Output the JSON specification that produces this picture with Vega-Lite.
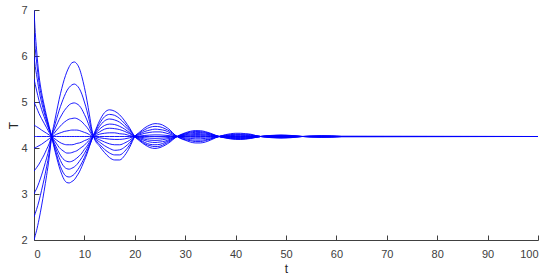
{
"$schema": "https://vega.github.io/schema/vega-lite/v6.json",
"width": 504, "height": 230,
"autosize": {"type": "none"},
"padding": {"left": 34, "top": 10, "right": 12, "bottom": 40},
"background": "white",
"config": {"view": {"stroke": null}, "font": "Liberation Sans"},
"data": {"values": [
{"t":0,"a":2,"b":2.5,"c":3,"d":3.5,"e":4,"f":4.25,"g":4.5,"h":5,"i":5.5,"j":6,"k":6.5,"l":7},
{"t":0.25,"a":2.10,"b":2.58,"c":3.06,"d":3.53,"e":4.01,"f":4.25,"g":4.48,"h":4.94,"i":5.38,"j":5.77,"k":6.16,"l":6.51},
{"t":0.5,"a":2.20,"b":2.66,"c":3.11,"d":3.57,"e":4.02,"f":4.25,"g":4.465,"h":4.88,"i":5.26,"j":5.60,"k":5.89,"l":6.15},
{"t":1,"a":2.45,"b":2.85,"c":3.25,"d":3.65,"e":4.05,"f":4.25,"g":4.43,"h":4.75,"i":5.03,"j":5.25,"k":5.42,"l":5.57},
{"t":1.5,"a":2.74,"b":3.08,"c":3.41,"d":3.75,"e":4.08,"f":4.25,"g":4.39,"h":4.64,"i":4.84,"j":4.99,"k":5.11,"l":5.21},
{"t":2,"a":3.06,"b":3.32,"c":3.59,"d":3.85,"e":4.12,"f":4.25,"g":4.355,"h":4.54,"i":4.68,"j":4.78,"k":4.86,"l":4.94},
{"t":2.5,"a":3.40,"b":3.59,"c":3.78,"d":3.97,"e":4.16,"f":4.25,"g":4.32,"h":4.44,"i":4.53,"j":4.59,"k":4.64,"l":4.69},
{"t":3,"a":3.78,"b":3.88,"c":3.99,"d":4.09,"e":4.20,"f":4.25,"g":4.285,"h":4.34,"i":4.39,"j":4.42,"k":4.44,"l":4.47},
{"t":3.5,"a":4.25,"b":4.25,"c":4.25,"d":4.25,"e":4.25,"f":4.25,"g":4.25,"h":4.25,"i":4.25,"j":4.25,"k":4.25,"l":4.25},
{"t":4,"a":4.53,"b":4.45,"c":4.38,"d":4.32,"e":4.27,"f":4.25,"g":4.21,"h":4.17,"i":4.12,"j":4.08,"k":4.04,"l":4.01},
{"t":4.5,"a":4.80,"b":4.64,"c":4.50,"d":4.39,"e":4.30,"f":4.25,"g":4.17,"h":4.09,"i":4.00,"j":3.93,"k":3.85,"l":3.79},
{"t":5,"a":5.06,"b":4.82,"c":4.62,"d":4.45,"e":4.32,"f":4.25,"g":4.13,"h":4.01,"i":3.89,"j":3.79,"k":3.67,"l":3.59},
{"t":5.5,"a":5.29,"b":4.98,"c":4.72,"d":4.51,"e":4.34,"f":4.25,"g":4.10,"h":3.96,"i":3.80,"j":3.67,"k":3.53,"l":3.43},
{"t":6,"a":5.49,"b":5.12,"c":4.81,"d":4.56,"e":4.36,"f":4.25,"g":4.08,"h":3.92,"i":3.74,"j":3.59,"k":3.43,"l":3.31},
{"t":6.5,"a":5.65,"b":5.24,"c":4.88,"d":4.60,"e":4.37,"f":4.25,"g":4.07,"h":3.89,"i":3.71,"j":3.55,"k":3.38,"l":3.25},
{"t":7,"a":5.77,"b":5.32,"c":4.94,"d":4.63,"e":4.38,"f":4.25,"g":4.07,"h":3.89,"i":3.70,"j":3.54,"k":3.37,"l":3.24},
{"t":7.5,"a":5.85,"b":5.37,"c":4.97,"d":4.64,"e":4.39,"f":4.25,"g":4.07,"h":3.90,"i":3.71,"j":3.56,"k":3.39,"l":3.27},
{"t":8,"a":5.87,"b":5.39,"c":4.98,"d":4.65,"e":4.39,"f":4.25,"g":4.08,"h":3.92,"i":3.74,"j":3.59,"k":3.43,"l":3.31},
{"t":8.5,"a":5.83,"b":5.36,"c":4.96,"d":4.64,"e":4.39,"f":4.25,"g":4.10,"h":3.94,"i":3.78,"j":3.64,"k":3.50,"l":3.39},
{"t":9,"a":5.73,"b":5.29,"c":4.92,"d":4.61,"e":4.38,"f":4.25,"g":4.11,"h":3.98,"i":3.83,"j":3.71,"k":3.58,"l":3.48},
{"t":9.5,"a":5.55,"b":5.17,"c":4.84,"d":4.57,"e":4.36,"f":4.25,"g":4.13,"h":4.02,"i":3.89,"j":3.79,"k":3.68,"l":3.60},
{"t":10,"a":5.32,"b":5.00,"c":4.73,"d":4.51,"e":4.34,"f":4.25,"g":4.16,"h":4.06,"i":3.97,"j":3.88,"k":3.79,"l":3.73},
{"t":10.5,"a":5.04,"b":4.81,"c":4.61,"d":4.45,"e":4.32,"f":4.25,"g":4.18,"h":4.12,"i":4.04,"j":3.98,"k":3.92,"l":3.87},
{"t":11,"a":4.72,"b":4.58,"c":4.46,"d":4.37,"e":4.29,"f":4.25,"g":4.21,"h":4.17,"i":4.13,"j":4.09,"k":4.05,"l":4.03},
{"t":11.5,"a":4.39,"b":4.35,"c":4.31,"d":4.28,"e":4.26,"f":4.25,"g":4.24,"h":4.23,"i":4.22,"j":4.20,"k":4.19,"l":4.19},
{"t":12,"a":4.20,"b":4.21,"c":4.22,"d":4.23,"e":4.244,"f":4.25,"g":4.26,"h":4.28,"i":4.29,"j":4.30,"k":4.32,"l":4.33},
{"t":13,"a":4.04,"b":4.08,"c":4.13,"d":4.18,"e":4.223,"f":4.25,"g":4.30,"h":4.35,"i":4.41,"j":4.47,"k":4.53,"l":4.59},
{"t":14,"a":3.90,"b":3.97,"c":4.05,"d":4.13,"e":4.206,"f":4.25,"g":4.32,"h":4.41,"i":4.49,"j":4.59,"k":4.68,"l":4.77},
{"t":15,"a":3.79,"b":3.89,"c":3.99,"d":4.09,"e":4.193,"f":4.25,"g":4.33,"h":4.43,"i":4.52,"j":4.63,"k":4.73,"l":4.83},
{"t":16,"a":3.74,"b":3.85,"c":3.95,"d":4.07,"e":4.186,"f":4.25,"g":4.33,"h":4.42,"i":4.51,"j":4.61,"k":4.71,"l":4.80},
{"t":17,"a":3.74,"b":3.85,"c":3.96,"d":4.07,"e":4.187,"f":4.25,"g":4.31,"h":4.40,"i":4.47,"j":4.56,"k":4.64,"l":4.72},
{"t":18,"a":3.84,"b":3.93,"c":4.02,"d":4.11,"e":4.199,"f":4.25,"g":4.30,"h":4.36,"i":4.41,"j":4.47,"k":4.53,"l":4.59},
{"t":19,"a":4.02,"b":4.07,"c":4.12,"d":4.17,"e":4.222,"f":4.25,"g":4.27,"h":4.31,"i":4.33,"j":4.37,"k":4.40,"l":4.43},
{"t":20,"a":4.25,"b":4.25,"c":4.25,"d":4.25,"e":4.25,"f":4.25,"g":4.25,"h":4.25,"i":4.25,"j":4.25,"k":4.25,"l":4.25},
{"t":21,"a":4.35,"b":4.33,"c":4.31,"d":4.29,"e":4.262,"f":4.25,"g":4.235,"h":4.22,"i":4.20,"j":4.18,"k":4.17,"l":4.15},
{"t":22,"a":4.44,"b":4.40,"c":4.36,"d":4.32,"e":4.273,"f":4.25,"g":4.222,"h":4.19,"i":4.16,"j":4.12,"k":4.09,"l":4.07},
{"t":23,"a":4.50,"b":4.45,"c":4.39,"d":4.34,"e":4.281,"f":4.25,"g":4.213,"h":4.17,"i":4.13,"j":4.08,"k":4.05,"l":4.01},
{"t":24,"a":4.53,"b":4.47,"c":4.41,"d":4.35,"e":4.285,"f":4.25,"g":4.21,"h":4.165,"i":4.12,"j":4.07,"k":4.03,"l":3.99},
{"t":25,"a":4.52,"b":4.46,"c":4.40,"d":4.35,"e":4.284,"f":4.25,"g":4.213,"h":4.17,"i":4.13,"j":4.08,"k":4.04,"l":4.01},
{"t":26,"a":4.47,"b":4.42,"c":4.38,"d":4.33,"e":4.277,"f":4.25,"g":4.22,"h":4.19,"i":4.15,"j":4.12,"k":4.09,"l":4.06},
{"t":27,"a":4.39,"b":4.36,"c":4.33,"d":4.30,"e":4.267,"f":4.25,"g":4.232,"h":4.21,"i":4.19,"j":4.17,"k":4.15,"l":4.13},
{"t":28,"a":4.28,"b":4.28,"c":4.27,"d":4.26,"e":4.254,"f":4.25,"g":4.246,"h":4.24,"i":4.24,"j":4.23,"k":4.23,"l":4.22},
{"t":29,"a":4.21,"b":4.22,"c":4.23,"d":4.237,"e":4.246,"f":4.25,"g":4.255,"h":4.262,"i":4.268,"j":4.274,"k":4.28,"l":4.285},
{"t":30,"a":4.17,"b":4.18,"c":4.20,"d":4.22,"e":4.24,"f":4.25,"g":4.262,"h":4.277,"i":4.29,"j":4.306,"k":4.318,"l":4.33},
{"t":31,"a":4.13,"b":4.16,"c":4.18,"d":4.208,"e":4.236,"f":4.25,"g":4.267,"h":4.287,"i":4.307,"j":4.328,"k":4.346,"l":4.363},
{"t":32,"a":4.11,"b":4.14,"c":4.17,"d":4.20,"e":4.233,"f":4.25,"g":4.27,"h":4.293,"i":4.315,"j":4.339,"k":4.359,"l":4.379},
{"t":33,"a":4.11,"b":4.14,"c":4.17,"d":4.20,"e":4.233,"f":4.25,"g":4.269,"h":4.292,"i":4.313,"j":4.337,"k":4.356,"l":4.376},
{"t":34,"a":4.13,"b":4.16,"c":4.18,"d":4.208,"e":4.236,"f":4.25,"g":4.266,"h":4.285,"i":4.303,"j":4.323,"k":4.339,"l":4.356},
{"t":35,"a":4.17,"b":4.19,"c":4.20,"d":4.221,"e":4.24,"f":4.25,"g":4.261,"h":4.274,"i":4.286,"j":4.30,"k":4.311,"l":4.322},
{"t":36,"a":4.22,"b":4.23,"c":4.23,"d":4.239,"e":4.246,"f":4.25,"g":4.254,"h":4.259,"i":4.264,"j":4.27,"k":4.274,"l":4.278},
{"t":37,"a":4.26,"b":4.26,"c":4.256,"d":4.254,"e":4.251,"f":4.25,"g":4.248,"h":4.247,"i":4.245,"j":4.243,"k":4.242,"l":4.24},
{"t":38,"a":4.29,"b":4.28,"c":4.27,"d":4.263,"e":4.254,"f":4.25,"g":4.245,"h":4.239,"i":4.234,"j":4.227,"k":4.222,"l":4.217},
{"t":39,"a":4.31,"b":4.29,"c":4.282,"d":4.27,"e":4.256,"f":4.25,"g":4.242,"h":4.233,"i":4.225,"j":4.214,"k":4.206,"l":4.198},
{"t":40,"a":4.32,"b":4.30,"c":4.289,"d":4.274,"e":4.258,"f":4.25,"g":4.24,"h":4.23,"i":4.219,"j":4.207,"k":4.197,"l":4.187},
{"t":41,"a":4.32,"b":4.30,"c":4.29,"d":4.275,"e":4.258,"f":4.25,"g":4.24,"h":4.229,"i":4.218,"j":4.205,"k":4.195,"l":4.185},
{"t":42,"a":4.31,"b":4.30,"c":4.285,"d":4.272,"e":4.257,"f":4.25,"g":4.241,"h":4.231,"i":4.222,"j":4.21,"k":4.201,"l":4.193},
{"t":43,"a":4.30,"b":4.29,"c":4.276,"d":4.266,"e":4.255,"f":4.25,"g":4.243,"h":4.236,"i":4.229,"j":4.221,"k":4.214,"l":4.208},
{"t":44,"a":4.27,"b":4.27,"c":4.263,"d":4.258,"e":4.253,"f":4.25,"g":4.247,"h":4.243,"i":4.239,"j":4.235,"k":4.232,"l":4.229},
{"t":45,"a":4.25,"b":4.25,"c":4.25,"d":4.25,"e":4.25,"f":4.25,"g":4.25,"h":4.25,"i":4.25,"j":4.251,"k":4.251,"l":4.251},
{"t":47,"a":4.225,"b":4.231,"c":4.236,"d":4.241,"e":4.246,"f":4.25,"g":4.254,"h":4.257,"i":4.262,"j":4.266,"k":4.269,"l":4.273},
{"t":49,"a":4.215,"b":4.223,"c":4.23,"d":4.238,"e":4.245,"f":4.25,"g":4.255,"h":4.26,"i":4.266,"j":4.272,"k":4.277,"l":4.282},
{"t":51,"a":4.224,"b":4.23,"c":4.235,"d":4.241,"e":4.246,"f":4.25,"g":4.254,"h":4.257,"i":4.262,"j":4.266,"k":4.27,"l":4.273},
{"t":53,"a":4.248,"b":4.248,"c":4.249,"d":4.249,"e":4.25,"f":4.25,"g":4.25,"h":4.251,"i":4.251,"j":4.252,"k":4.252,"l":4.252},
{"t":55,"a":4.261,"b":4.258,"c":4.256,"d":4.254,"e":4.25,"f":4.25,"g":4.25,"h":4.246,"i":4.245,"j":4.243,"k":4.242,"l":4.24},
{"t":57,"a":4.267,"b":4.263,"c":4.26,"d":4.256,"e":4.25,"f":4.25,"g":4.25,"h":4.245,"i":4.242,"j":4.239,"k":4.237,"l":4.234},
{"t":59,"a":4.264,"b":4.26,"c":4.258,"d":4.255,"e":4.25,"f":4.25,"g":4.25,"h":4.246,"i":4.244,"j":4.241,"k":4.24,"l":4.237},
{"t":61,"a":4.253,"b":4.252,"c":4.252,"d":4.251,"e":4.25,"f":4.25,"g":4.25,"h":4.25,"i":4.248,"j":4.248,"k":4.248,"l":4.247},
{"t":100,"a":4.25,"b":4.25,"c":4.25,"d":4.25,"e":4.25,"f":4.25,"g":4.25,"h":4.25,"i":4.25,"j":4.25,"k":4.25,"l":4.25}
]},
"transform": [{"fold": ["a","b","c","d","e","f","g","h","i","j","k","l"], "as": ["series","T"]}],
"mark": {"type": "line", "color": "#0000ff", "strokeWidth": 0.9, "interpolate": "monotone", "clip": true},
"encoding": {
  "x": {"field": "t", "type": "quantitative",
        "scale": {"domain": [0, 100], "nice": false, "zero": false},
        "axis": {"values": [0,10,20,30,40,50,60,70,80,90,100], "title": "t", "grid": false,
                 "tickSize": -5, "labelPadding": 13, "labelFontSize": 11, "labelColor": "#404040",
                 "domainColor": "#404040", "tickColor": "#404040", "labelFont": "Liberation Sans",
                 "titleFont": "Liberation Sans", "titleFontSize": 12, "titleFontWeight": "normal",
                 "titleColor": "#262626", "titlePadding": 4}},
  "y": {"field": "T", "type": "quantitative",
        "scale": {"domain": [2, 7], "nice": false, "zero": false},
        "axis": {"values": [2,3,4,5,6,7], "title": "T", "grid": false,
                 "tickSize": -5, "labelPadding": 12, "labelFontSize": 11, "labelColor": "#404040",
                 "domainColor": "#404040", "tickColor": "#404040", "labelFont": "Liberation Sans",
                 "titleFont": "Liberation Sans", "titleFontSize": 12, "titleFontWeight": "normal",
                 "titleColor": "#262626", "titlePadding": 0}},
  "detail": {"field": "series", "type": "nominal"}
}
}
